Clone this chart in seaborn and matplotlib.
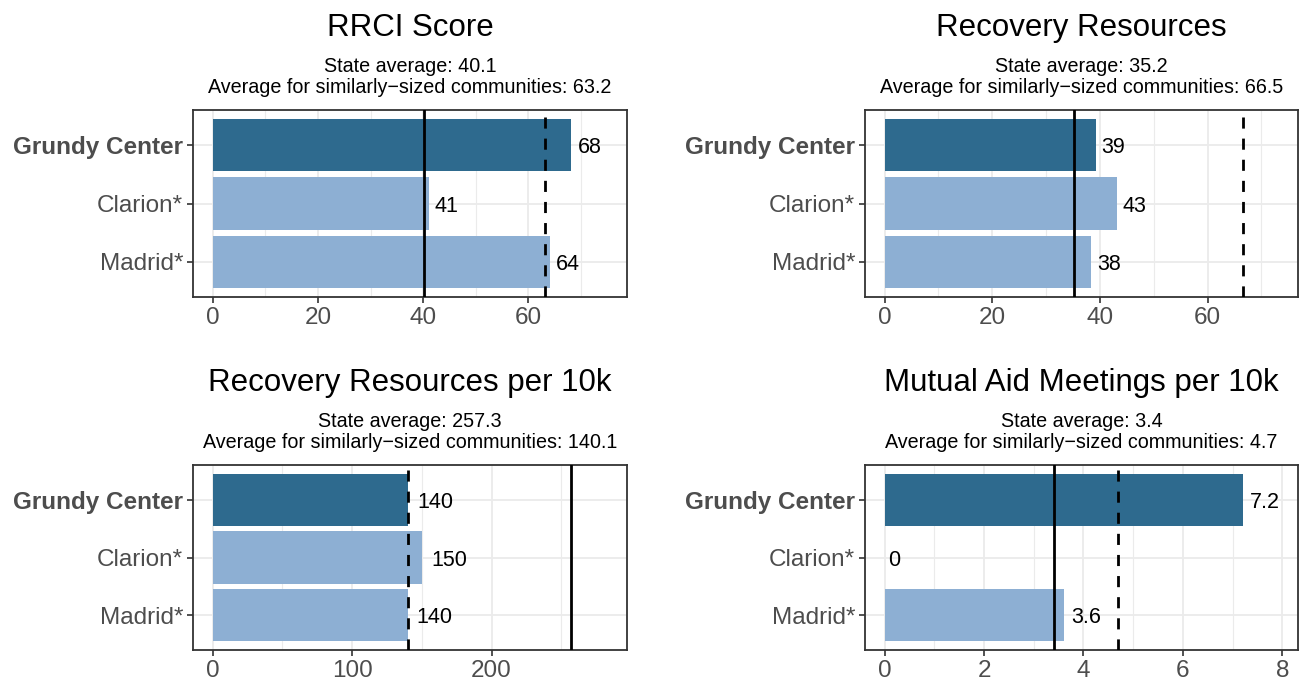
import pandas as pd
import numpy as np
import seaborn as sns
import matplotlib
matplotlib.use('Agg')
import matplotlib.pyplot as plt
from matplotlib.ticker import MultipleLocator

# datos
communities = ["Grundy Center", "Clarion*", "Madrid*"]
titles = ["RRCI Score", "Recovery Resources",
          "Recovery Resources per 10k", "Mutual Aid Meetings per 10k"]
rrci = [68.2, 41.1, 64.2]
resources = [39.2, 43.1, 38.3]
resources_10k = [140.1, 150.2, 140.0]
meetings_10k = [7.2, 0.0, 3.6]
bar_labels = [["68", "41", "64"], ["39", "43", "38"],
              ["140", "150", "140"], ["7.2", "0", "3.6"]]
state_avg = [40.1, 35.2, 257.3, 3.4]
similar_avg = [63.2, 66.5, 140.1, 4.7]
major_step = [20, 20, 100, 2]

dark_blue = "#2E6A8E"
light_blue = "#8DAFD3"
palette = {"Grundy Center": dark_blue, "Clarion*": light_blue, "Madrid*": light_blue}

sns.set_theme(style="white")
plt.rcParams['font.family'] = ['Liberation Sans', 'DejaVu Sans']

fig = plt.figure(figsize=(13.01, 6.83), dpi=100)
W, H = 1301, 683
# posiciones de los paneles en pixeles (izq, arriba, der, abajo)
boxes = [(193, 110, 627, 297), (865, 110, 1298, 297),
         (193, 465, 627, 650), (865, 465, 1298, 650)]

all_values = [rrci, resources, resources_10k, meetings_10k]
label_size = 15.5
em_px = label_size * 100 / 72


def label_offset(txt):
    # como hjust negativo en ggplot: desplazamiento proporcional al ancho
    width = sum(0.278 if c == "." else 0.556 for c in txt) * em_px
    return 0.25 * width


for i, vals in enumerate(all_values):
    l, t, r, b = boxes[i]
    ax = fig.add_axes([l / W, (H - b) / H, (r - l) / W, (b - t) / H])
    df = pd.DataFrame({"community": communities, "value": vals})
    sns.barplot(data=df, x="value", y="community", hue="community",
                palette=palette, orient="h", width=0.9, ax=ax,
                legend=False, saturation=1, linewidth=0, zorder=2)

    # limites como ggplot: max*1.1 con expansion de 5%
    upper = max(max(vals), state_avg[i], similar_avg[i]) * 1.1
    ax.set_xlim(-0.05 * upper, 1.05 * upper)
    ax.set_ylim(2.6, -0.6)

    ax.axvline(state_avg[i], color="black", lw=2.0, zorder=3)
    ax.axvline(similar_avg[i], color="black", lw=2.0, ls=(0, (4, 3.6)), zorder=3)

    for j, v in enumerate(vals):
        ax.annotate(bar_labels[i][j], xy=(v, j),
                    xytext=(label_offset(bar_labels[i][j]), 0),
                    textcoords="offset pixels", va="center_baseline", ha="left",
                    fontsize=label_size, color="black", zorder=4)

    ax.xaxis.set_major_locator(MultipleLocator(major_step[i]))
    ax.xaxis.set_minor_locator(MultipleLocator(major_step[i] / 2))
    ax.grid(True, which="major", color="#EBEBEB", lw=1.3)
    ax.grid(True, which="minor", axis="x", color="#EBEBEB", lw=0.8)
    ax.set_axisbelow(True)

    ax.set_xlabel("")
    ax.set_ylabel("")
    ax.tick_params(axis="both", which="major", length=4, width=1.2,
                   color="#333333", labelcolor="#4D4D4D", labelsize=17.5,
                   bottom=True, left=True, pad=3)
    ax.tick_params(axis="x", which="minor", length=0)
    for lab in ax.get_yticklabels():
        if lab.get_text() == "Grundy Center":
            lab.set_fontweight("bold")
    for sp in ax.spines.values():
        sp.set_color("#333333")
        sp.set_linewidth(1.3)
        sp.set_visible(True)

    # titulo y subtitulo
    ax.annotate(titles[i], xy=(0.5, 1), xycoords="axes fraction",
                xytext=(0, 74), textcoords="offset pixels",
                ha="center", va="baseline", fontsize=22.5, color="black")
    ax.annotate(f"State average: {state_avg[i]}", xy=(0.5, 1),
                xycoords="axes fraction", xytext=(0, 38),
                textcoords="offset pixels", ha="center", va="baseline",
                fontsize=14.2, color="black")
    ax.annotate(f"Average for similarly\u2212sized communities: {similar_avg[i]}",
                xy=(0.5, 1), xycoords="axes fraction", xytext=(0, 17),
                textcoords="offset pixels", ha="center", va="baseline",
                fontsize=14.2, color="black")

plt.savefig("out.png", dpi=100)
